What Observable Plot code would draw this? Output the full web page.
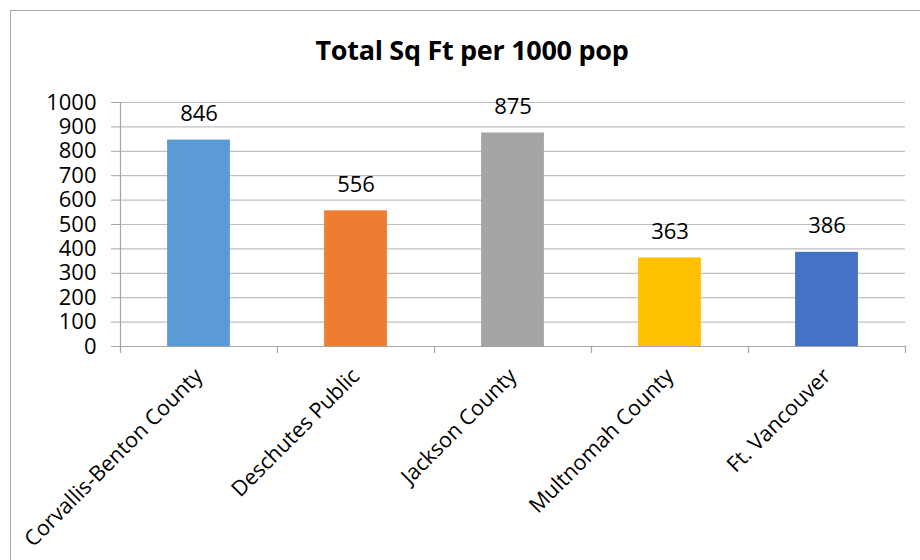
<!DOCTYPE html>
<html>
<head>
<meta charset="utf-8">
<script src="https://cdn.jsdelivr.net/npm/d3@7"></script>
<script src="https://cdn.jsdelivr.net/npm/@observablehq/plot@0.6"></script>
<style>
  html, body { margin: 0; padding: 0; background: #fff; }
  #wrap { position: relative; width: 920px; height: 560px; overflow: hidden; font-family: "Open Sans", sans-serif; }
  #border { position: absolute; left: 10px; top: 10px; width: 940px; height: 600px; border: 1px solid #a6a6a6; box-sizing: border-box; }
  #title { position: absolute; left: 0; top: 31px; width: 944px; text-align: center; font-size: 27px; font-weight: bold; color: #000; letter-spacing: -0.3px; }
  #chart { position: absolute; left: 0; top: 0; }
</style>
</head>
<body>
<div id="wrap">
  <div id="border"></div>
  <div id="chart"></div>
  <div id="title">Total Sq Ft per 1000 pop</div>
</div>
<script>
const categories = ["Corvallis-Benton County", "Deschutes Public", "Jackson County", "Multnomah County", "Ft. Vancouver"];
const values = [846, 556, 875, 363, 386];
const colors = ["#5B9BD5", "#ED7D31", "#A5A5A5", "#FFC000", "#4472C4"];
const yTicks = [0, 100, 200, 300, 400, 500, 600, 700, 800, 900, 1000];

const data = categories.map((c, i) => ({category: c, value: values[i], color: colors[i]}));

const W = 920, H = 560, ML = 120, MR = 15, MT = 102, MB = 214;
const bw = (W - ML - MR) / categories.length;

const chart = Plot.plot({
  width: W,
  height: H,
  marginLeft: ML,
  marginRight: MR,
  marginTop: MT,
  marginBottom: MB,
  style: { fontFamily: "Open Sans, sans-serif", color: "#000", background: "transparent", overflow: "visible" },
  x: { type: "band", domain: categories, padding: 0, label: null },
  y: { type: "linear", domain: [0, 1000], label: null },
  marks: [
    Plot.ruleY(yTicks, { y: d => d, stroke: "#bfbfbf", strokeWidth: 1.2 }),
    Plot.barY(data, { x: "category", y: "value", fill: "color", insetLeft: bw * 0.3, insetRight: bw * 0.3 }),
    Plot.ruleY([0], { y: d => d, stroke: "#a6a6a6", strokeWidth: 1.2 }),
    Plot.ruleX([categories[0]], { x: d => d, dx: -bw / 2, y1: 0, y2: 1000, stroke: "#a6a6a6", strokeWidth: 1.2 }),
    Plot.ruleX(categories, { x: d => d, dx: -bw / 2, y1: 0, y2: 0, insetBottom: -7, stroke: "#a6a6a6", strokeWidth: 1.2 }),
    Plot.ruleX([categories[categories.length - 1]], { x: d => d, dx: bw / 2, y1: 0, y2: 0, insetBottom: -7, stroke: "#a6a6a6", strokeWidth: 1.2 }),
    Plot.axisX({ anchor: "bottom", tickSize: 0, tickPadding: 26, tickRotate: -45, fontSize: 21.5, textAnchor: "end", stroke: "none" }),
    Plot.axisY({ ticks: yTicks, tickSize: 9, tickPadding: 15, fontSize: 22, stroke: "#a6a6a6", fill: "#000", tickFormat: d => String(d) }),
    Plot.text(data, { x: "category", y: "value", text: d => String(d.value), fontSize: 22, lineAnchor: "bottom", dy: -19, fill: "#000" })
  ]
});
document.getElementById("chart").appendChild(chart);
</script>
</body>
</html>
